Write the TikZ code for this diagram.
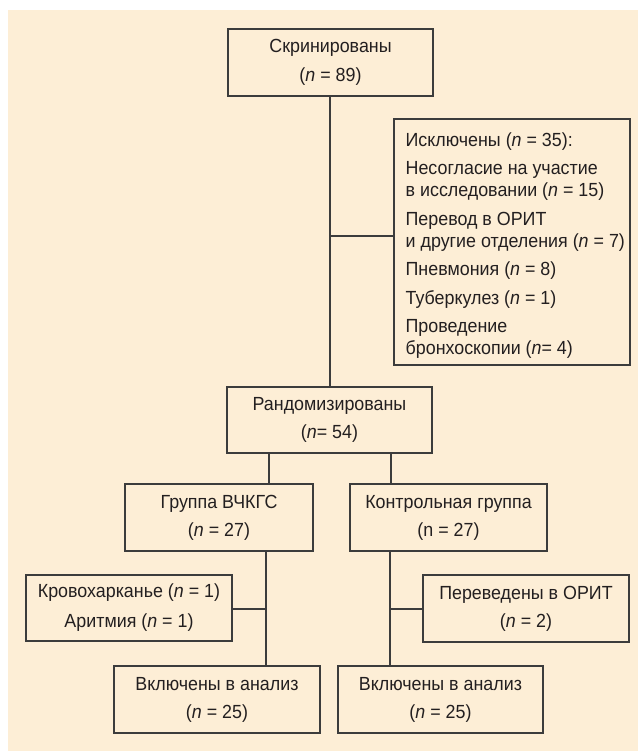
\documentclass[tikz,border=0pt]{standalone}
\usepackage{fontspec}
\setmainfont{Liberation Sans}[FakeStretch=0.94]
\definecolor{bg}{RGB}{253,238,214}
\definecolor{ink}{RGB}{35,31,32}
\definecolor{edge}{RGB}{60,60,60}
\newcommand\dfont{\fontsize{19}{22}\selectfont}
\begin{document}
\begin{tikzpicture}[x=1pt,y=-1pt,
  box/.style={draw=edge,line width=1.1pt,inner sep=0pt,align=center,text=ink,font=\dfont},
  conn/.style={draw=edge,line width=1.1pt}]
\useasboundingbox (0,0) rectangle (638,751);
\fill[bg] (8,10) rectangle (638,751);

\node[box,minimum width=205pt,minimum height=67pt] (scr) at (330.5,62.5) {Скринированы\\[7pt](\textit{n} = 89)};
\node[box,minimum width=236pt,minimum height=246pt] (excl) at (512,242) {};
\node[anchor=west,align=left,inner sep=0pt,text=ink,font=\dfont] (excltxt) at ([xshift=12pt,yshift=-3.5pt]excl.west) {Исключены (\textit{n} = 35):\\[6.5pt]Несогласие на участие\\в исследовании (\textit{n} = 15)\\[6.5pt]Перевод в ОРИТ\\и другие отделения (\textit{n} = 7)\\[6.5pt]Пневмония (\textit{n} = 8)\\[6.5pt]Туберкулез (\textit{n} = 1)\\[6.5pt]Проведение\\бронхоскопии (\textit{n}= 4)};
\node[box,minimum width=205pt,minimum height=66pt] (rand) at (329.5,420) {Рандомизированы\\[6pt](\textit{n}= 54)};
\node[box,minimum width=188pt,minimum height=67pt] (grp) at (219,517.5) {Группа ВЧКГС\\[6pt](\textit{n} = 27)};
\node[box,minimum width=197pt,minimum height=67pt] (ctrl) at (448.5,517.5) {Контрольная группа\\[6pt](n = 27)};
\node[box,minimum width=206pt,minimum height=66pt] (blood) at (129,608) {Кровохарканье (\textit{n} = 1)\\[8pt]Аритмия (\textit{n} = 1)};
\node[box,minimum width=206pt,minimum height=67pt] (icu) at (526,608.5) {Переведены в ОРИТ\\[6pt](\textit{n} = 2)};
\node[box,minimum width=206pt,minimum height=67pt] (inc1) at (217,699.5) {Включены в анализ\\[6pt](\textit{n} = 25)};
\node[box,minimum width=205pt,minimum height=67pt] (inc2) at (440.5,699.5) {Включены в анализ\\[6pt](\textit{n} = 25)};

\coordinate (a) at (330,236);
\coordinate (b) at (269,0);
\coordinate (c) at (391,0);
\coordinate (d) at (266,609);
\coordinate (e) at (390,609);
\draw[conn] (scr.south -| a) -- (rand.north -| a);
\draw[conn] (a) -- (a -| excl.west);
\draw[conn] (rand.south -| b) -- (grp.north -| b);
\draw[conn] (rand.south -| c) -- (ctrl.north -| c);
\draw[conn] (grp.south -| d) -- (inc1.north -| d);
\draw[conn] (blood.east |- d) -- (d);
\draw[conn] (ctrl.south -| e) -- (inc2.north -| e);
\draw[conn] (e) -- (e -| icu.west);
\end{tikzpicture}
\end{document}
